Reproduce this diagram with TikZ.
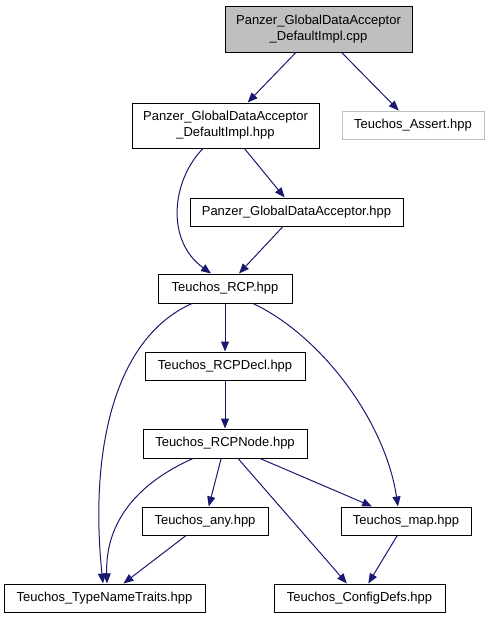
\documentclass[tikz,border=0pt]{standalone}
\usepackage{fontspec}
\setmainfont{Liberation Sans}
\usetikzlibrary{arrows.meta}
\definecolor{edgeblue}{HTML}{191970}
\definecolor{boxgray}{HTML}{BFBFBF}
\tikzset{
  box/.style={draw=black, line width=1pt, rectangle, inner sep=0pt, align=center,
    font=\fontsize{13}{16}\selectfont},
  wh/.style n args={2}{minimum width=#1pt, minimum height=#2pt},
  dep/.style={draw=edgeblue, line width=1pt, -{Triangle[length=10pt,width=8pt]}, fill=none},
}
\begin{document}
\begin{tikzpicture}[x=1pt,y=-1pt]
\useasboundingbox (0,0) rectangle (489,619);
\node[box, fill=boxgray, wh={187}{46}] (cpp) at (318.5,29) {Panzer\_GlobalDataAcceptor\\\_DefaultImpl.cpp};
\node[box, wh={187}{45}] (hpp) at (225.5,125.5) {Panzer\_GlobalDataAcceptor\\\_DefaultImpl.hpp};
\node[box, draw=boxgray, wh={142}{28}] (assert) at (413,125) {Teuchos\_Assert.hpp};
\node[box, wh={213}{28}] (gda) at (296.5,212) {Panzer\_GlobalDataAcceptor.hpp};
\node[box, wh={134}{29}] (rcp) at (225,288.5) {Teuchos\_RCP.hpp};
\node[box, wh={160}{28}] (rcpdecl) at (225,366) {Teuchos\_RCPDecl.hpp};
\node[box, wh={164}{29}] (rcpnode) at (225,443.5) {Teuchos\_RCPNode.hpp};
\node[box, wh={126}{28}] (any) at (205,521) {Teuchos\_any.hpp};
\node[box, wh={130}{28}] (map) at (406,521) {Teuchos\_map.hpp};
\node[box, wh={201}{28}] (tnt) at (104.5,598) {Teuchos\_TypeNameTraits.hpp};
\node[box, wh={171}{28}] (config) at (359.5,598) {Teuchos\_ConfigDefs.hpp};

\draw[dep] (cpp) -- (hpp);
\draw[dep] (cpp) -- (assert);
\draw[dep] (hpp) -- (gda);
\draw[dep] ([xshift=-22.5pt]hpp.south) .. controls (172,180) and (165,240) .. ([xshift=-14pt]rcp.north);
\draw[dep] (gda) -- (rcp);
\draw[dep] (rcp) -- (rcpdecl);
\draw[dep] ([xshift=-33pt]rcp.south) .. controls (110,340) and (90,460) .. ([xshift=-1.5pt]tnt.north);
\draw[dep] ([xshift=28pt]rcp.south) .. controls (320,335) and (385,420) .. ([xshift=-8pt]map.north);
\draw[dep] (rcpdecl) -- (rcpnode);
\draw[dep] (rcpnode) -- (any);
\draw[dep] (rcpnode) -- (map);
\draw[dep] (rcpnode) -- (config);
\draw[dep] ([xshift=-32pt]rcpnode.south) .. controls (140,482) and (105,520) .. ([xshift=2.5pt]tnt.north);
\draw[dep] (any) -- (tnt);
\draw[dep] (map) -- (config);
\end{tikzpicture}
\end{document}
